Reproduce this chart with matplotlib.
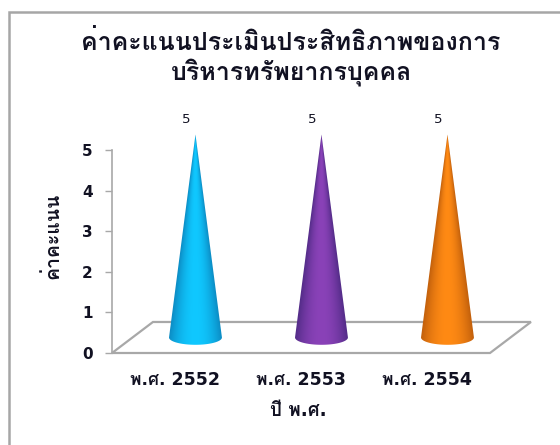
import numpy as np
import matplotlib
matplotlib.use("Agg")
import matplotlib.pyplot as plt
from matplotlib.patches import PathPatch, Polygon, Rectangle
from matplotlib.path import Path

W, H = 560, 445
# DejaVu supplies the digits and Latin signs, Loma the Thai
plt.rcParams["font.family"] = ["DejaVu Sans", "Loma", "Sarabun"]

TITLE = "ค่าคะแนนประเมินประสิทธิภาพของการ\nบริหารทรัพยากรบุคคล"
YLABEL = "ค่าคะแนน"
XLABEL = "ปี พ.ศ."
years = ["พ.ศ. 2552", "พ.ศ. 2553", "พ.ศ. 2554"]
scores = [5, 5, 5]
yticks = [0, 1, 2, 3, 4, 5]
edge_cols = ["#0c8cc4", "#532c88", "#c2600c"]
mid_cols = ["#10c8ff", "#8a42b8", "#ff8a14"]

DEPTH_X, DEPTH_Y = 0.325, 0.764   # floor depth, in data units
HALF_W, BASE_H = 0.21, 0.18       # cone base ellipse radii
INK = "#111122"
GRID = "#a8a8a8"


def to_rgb(c):
    return np.array(matplotlib.colors.to_rgb(c))


def draw_cone(ax, xc, val, c_edge, c_mid):
    cx = xc + DEPTH_X / 2
    y0 = DEPTH_Y / 2
    tip = y0 + val
    # shade by position across the cone so the highlight runs up to the tip
    xs = np.linspace(cx - HALF_W, cx + HALF_W, 120)
    ys = np.linspace(y0 - BASE_H, tip, 300)
    X, Y = np.meshgrid(xs, ys)
    frac = np.clip((tip - Y) / val, 1e-3, None)
    u = np.clip(np.abs(X - cx) / (HALF_W * frac), 0, 1)
    t = (1 - u ** 2.0)[..., None]
    img = to_rgb(c_edge) * (1 - t) + to_rgb(c_mid) * t
    im = ax.imshow(img, origin="lower", aspect="auto", zorder=3,
                   extent=(xs[0], xs[-1], ys[0], ys[-1]), interpolation="bilinear")
    ang = np.linspace(np.pi, 2 * np.pi, 40)
    verts = [(cx, tip)] + [(cx + HALF_W * np.cos(a), y0 + BASE_H * np.sin(a)) for a in ang] + [(cx, tip)]
    codes = [Path.MOVETO] + [Path.LINETO] * (len(verts) - 2) + [Path.CLOSEPOLY]
    patch = PathPatch(Path(verts, codes), transform=ax.transData, fc="none", ec="none")
    ax.add_patch(patch)
    im.set_clip_path(patch)
    im.set_clip_box(ax.figure.bbox)   # the tip rises above the value axis


fig = plt.figure(figsize=(W / 100, H / 100), dpi=100)
# chart frame runs off the right and bottom of the canvas
fig.add_artist(Rectangle((9 / W, -0.05), 1.05, 1.05 - 12 / H, transform=fig.transFigure,
                         fc="white", ec="#a6a6a6", lw=1.8, zorder=-1))

ax = fig.add_axes([112 / W, 1 - 353 / H, 378 / W, 203 / H])
ax.patch.set_alpha(0)
for s in ax.spines.values():
    s.set_visible(False)

# floor of the 3-D plot
floor = [(-0.5, 0), (-0.5 + DEPTH_X, DEPTH_Y), (2.5 + DEPTH_X, DEPTH_Y), (2.5, 0)]
ax.add_patch(Polygon(floor, closed=True, fc="white", ec=GRID, lw=1.6, zorder=1, clip_on=False))

pos = np.arange(len(scores))
for i, v in enumerate(scores):
    draw_cone(ax, pos[i], v, edge_cols[i], mid_cols[i])
    ax.annotate(str(v), (pos[i] + 0.09, v), xytext=(0, 17), textcoords="offset points", ha="center", va="bottom",
                fontsize=9.5, color=INK, annotation_clip=False)

ax.set_xlim(-0.5, 2.5)
ax.set_ylim(0, 5)
ax.set_xticks(pos, years, fontsize=12.5, fontweight="bold", color=INK)
ax.set_yticks(yticks, [str(t) for t in yticks], fontsize=11, fontweight="bold", color=INK)
ax.spines["left"].set_visible(True)
ax.spines["left"].set_color(GRID)
ax.spines["left"].set_linewidth(1.2)
ax.tick_params(axis="x", length=0, pad=13)
ax.tick_params(axis="y", length=5, width=1, color=GRID, pad=9)

fig.text(52 / W, 1 - 236 / H, YLABEL, rotation=90, ha="center", va="center", fontsize=14,
         fontweight="bold", color=INK)
fig.text(298 / W, 1 - 411 / H, XLABEL, ha="center", va="center", fontsize=13.5, fontweight="bold", color=INK)
fig.text(291 / W, 1 - 58 / H, TITLE, ha="center", va="center", fontsize=18, fontweight="bold", color=INK,
         linespacing=1.15)

fig.savefig("out.png", dpi=100)
